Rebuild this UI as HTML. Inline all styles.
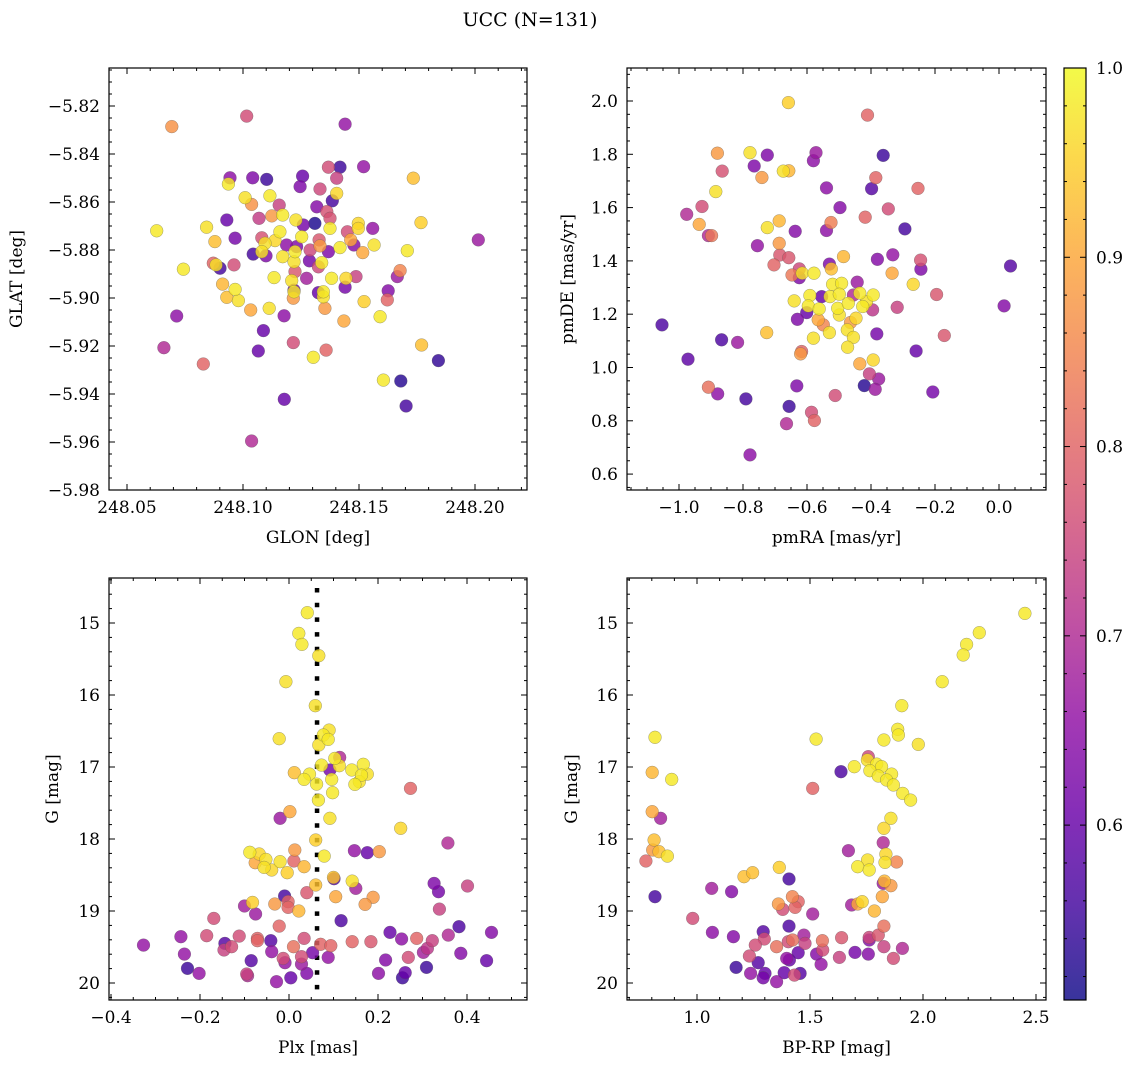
<!DOCTYPE html>
<html><head><meta charset="utf-8">
<style>
html,body{margin:0;padding:0;background:#fff;}
svg{display:block;font-family:"DejaVu Serif","Liberation Serif",serif;}
</style></head>
<body>
<svg id="fig" width="1136" height="1067" viewBox="0 0 1136 1067" xmlns="http://www.w3.org/2000/svg">
<rect width="1136" height="1067" fill="#fff"/>
<text x="530" y="26" font-size="19" text-anchor="middle">UCC (N=131)</text>
</svg>
<script>
// ---------- Panel 1 data: GLON / GLAT ----------
const p1Glon=[248.0693,248.1016,248.144,248.1418,248.1368,248.152,248.0944,248.1042,248.1102,248.1257,248.1404,248.1734,248.0937,248.1246,248.1332,248.1404,248.1385,248.1009,248.1037,248.1116,248.1156,248.1318,248.1361,248.093,248.1069,248.1124,248.1171,248.1228,248.126,248.131,248.1375,248.1375,248.1497,248.1497,248.145,248.1559,248.0628,248.0843,248.0879,248.0966,248.1081,248.1159,248.1138,248.1095,248.1044,248.1099,248.1081,248.1188,248.1253,248.1231,248.1328,248.1332,248.1289,248.1224,248.1171,248.1368,248.1418,248.1464,248.1478,248.1516,248.1565,248.1708,248.1767,248.2014,248.0743,248.0872,248.0901,248.0884,248.0961,248.122,248.1224,248.1286,248.1339,248.1325,248.1134,248.121,248.1274,248.1382,248.1444,248.1487,248.1677,248.1665,248.0912,248.0966,248.093,248.098,248.1033,248.1113,248.122,248.1217,248.122,248.1325,248.1346,248.1346,248.144,248.1353,248.1435,248.1522,248.1626,248.1622,248.1591,248.0714,248.1177,248.1088,248.0659,248.1066,248.1217,248.1303,248.1358,248.0829,248.177,248.1842,248.1605,248.168,248.1178,248.1703,248.1037];
const p1Glat=[-5.8286,-5.8242,-5.8276,-5.8455,-5.8455,-5.8453,-5.8499,-5.8499,-5.8506,-5.8492,-5.8501,-5.8501,-5.8525,-5.8536,-5.8546,-5.8564,-5.8595,-5.8582,-5.861,-5.8574,-5.8613,-5.862,-5.864,-5.8675,-5.8668,-5.8658,-5.8654,-5.8675,-5.8696,-5.8689,-5.8668,-5.871,-5.8689,-5.871,-5.8724,-5.871,-5.872,-5.8705,-5.8765,-5.8751,-5.8749,-5.8724,-5.8761,-5.8772,-5.8817,-5.8824,-5.8807,-5.8779,-5.8745,-5.8786,-5.8758,-5.8783,-5.88,-5.8807,-5.8828,-5.8807,-5.879,-5.8758,-5.8779,-5.8811,-5.8779,-5.8803,-5.8686,-5.8758,-5.888,-5.8855,-5.8876,-5.8862,-5.8862,-5.8849,-5.889,-5.8845,-5.8853,-5.887,-5.8915,-5.8928,-5.8918,-5.8918,-5.8918,-5.8911,-5.8886,-5.8911,-5.8942,-5.8964,-5.8997,-5.9011,-5.905,-5.9043,-5.8967,-5.9001,-5.8974,-5.8978,-5.8974,-5.8995,-5.8955,-5.9043,-5.9096,-5.9015,-5.897,-5.9008,-5.9078,-5.9075,-5.9074,-5.9136,-5.9207,-5.9221,-5.9186,-5.9247,-5.9217,-5.9275,-5.9196,-5.9261,-5.9342,-5.9346,-5.9422,-5.945,-5.9596];
const p1Prob=[.87,.76,.66,.55,.76,.66,.65,.63,.55,.6,.74,.93,.98,.63,.75,.96,.56,.97,.87,.98,.74,.64,.77,.6,.73,.88,.98,.97,.62,.52,.77,.98,.96,.96,.76,.66,.98,.97,.93,.62,.77,.98,.96,.97,.56,.63,.97,.65,.98,.63,.78,.88,.75,.98,.97,.63,.98,.9,.64,.9,.97,.98,.95,.67,.98,.8,.56,.97,.76,.97,.78,.62,.98,.75,.98,.97,.68,.98,.96,.74,.85,.67,.92,.98,.93,.97,.9,.97,.6,.88,.98,.6,.98,.97,.62,.88,.9,.95,.64,.8,.98,.65,.65,.6,.7,.6,.76,.98,.8,.8,.93,.54,.98,.53,.6,.56,.7];

// ---------- Panel 2 data: pmRA / pmDE ----------
const p2PmRA=[-0.658,-0.411,-0.88,-0.778,-0.724,-0.572,-0.58,-0.362,-0.765,-0.865,-0.674,-0.657,-0.741,-0.385,-0.539,-0.398,-0.253,-0.885,-0.928,-0.497,-0.346,-0.976,-0.418,-0.937,-0.687,-0.724,-0.525,-0.539,-0.637,-0.294,-0.908,-0.898,-0.755,-0.687,-0.685,-0.657,-0.703,-0.624,-0.647,-0.624,-0.615,-0.578,-0.53,-0.524,-0.486,-0.38,-0.332,-0.245,-0.244,-0.334,0.036,-0.268,-0.443,-0.52,-0.492,-0.195,0.016,-0.64,-0.591,-0.554,-0.528,-0.499,-0.455,-0.435,-0.393,-0.596,-0.562,-0.504,-0.471,-0.426,-0.414,-0.395,-0.318,-0.601,-0.63,-0.565,-0.549,-0.499,-0.447,-0.464,-0.53,-0.474,-0.726,-0.382,-0.171,-1.053,-0.455,-0.58,-0.867,-0.817,-0.473,-0.617,-0.62,-0.259,-0.972,-0.393,-0.435,-0.405,-0.376,-0.421,-0.387,-0.207,-0.632,-0.908,-0.879,-0.791,-0.512,-0.656,-0.586,-0.577,-0.664,-0.778];
const p2PmDE=[1.994,1.947,1.804,1.806,1.797,1.806,1.776,1.796,1.756,1.737,1.737,1.738,1.713,1.712,1.674,1.671,1.672,1.66,1.604,1.6,1.595,1.575,1.564,1.537,1.55,1.525,1.544,1.514,1.511,1.52,1.495,1.495,1.457,1.466,1.422,1.412,1.385,1.37,1.347,1.337,1.354,1.354,1.388,1.37,1.416,1.406,1.423,1.403,1.369,1.354,1.381,1.312,1.32,1.312,1.316,1.274,1.231,1.25,1.27,1.266,1.266,1.275,1.272,1.279,1.272,1.231,1.22,1.222,1.241,1.229,1.247,1.216,1.226,1.206,1.181,1.179,1.16,1.197,1.185,1.169,1.131,1.141,1.131,1.126,1.12,1.16,1.113,1.11,1.104,1.094,1.076,1.06,1.051,1.062,1.031,1.028,1.014,0.976,0.957,0.932,0.918,0.908,0.931,0.926,0.901,0.882,0.895,0.854,0.832,0.801,0.789,0.672];
const p2Prob=[.95,.8,.88,.97,.63,.67,.65,.55,.63,.77,.97,.92,.88,.8,.65,.58,.8,.97,.76,.64,.76,.7,.8,.9,.92,.97,.84,.65,.64,.56,.7,.83,.66,.88,.78,.78,.8,.75,.83,.63,.97,.98,.63,.93,.92,.64,.66,.77,.63,.9,.58,.96,.67,.98,.98,.78,.64,.97,.98,.6,.98,.98,.7,.98,.98,.98,.98,.98,.98,.98,.97,.72,.74,.6,.63,.9,.85,.97,.96,.88,.97,.97,.93,.62,.78,.57,.97,.97,.57,.67,.97,.8,.88,.6,.59,.96,.9,.74,.67,.53,.67,.62,.63,.82,.65,.56,.76,.55,.76,.8,.7,.65];

// ---------- Panel 3 data: Plx / G ----------
const p3Plx=[0.041,0.022,0.029,0.067,-0.007,0.059,-0.022,0.09,0.077,0.088,0.067,0.114,0.103,0.113,0.073,0.092,0.012,0.046,0.034,0.062,0.096,0.141,0.167,0.163,0.176,0.148,0.158,0.098,0.066,0.273,0.002,-0.02,0.092,0.251,0.06,0.357,0.013,0.147,0.176,0.203,-0.088,-0.067,-0.052,-0.076,-0.02,0.011,-0.056,-0.039,-0.004,0.034,0.079,0.101,0.1,0.142,0.15,0.06,0.04,0.326,0.336,0.401,-0.01,-0.002,-0.002,-0.032,-0.082,-0.1,0.022,0.105,0.189,0.171,-0.075,0.338,-0.169,-0.022,0.117,0.382,0.455,0.227,0.358,-0.327,-0.243,-0.185,-0.112,-0.071,-0.071,-0.144,-0.129,-0.146,-0.041,0.034,0.01,0.071,0.094,0.142,0.184,0.253,0.287,0.322,0.311,0.302,0.386,0.444,-0.235,-0.039,-0.013,-0.009,0.053,0.028,0.028,0.088,-0.085,0.217,0.268,0.309,-0.228,-0.202,-0.095,-0.093,-0.028,0.004,0.04,0.201,0.261,0.255];
const p3G=[14.857,15.144,15.297,15.454,15.815,16.149,16.607,16.487,16.556,16.616,16.695,16.866,16.88,16.982,16.973,17.042,17.079,17.098,17.172,17.237,17.172,17.042,16.963,17.112,17.098,17.241,17.204,17.357,17.459,17.297,17.621,17.713,17.713,17.852,18.014,18.056,18.153,18.162,18.19,18.176,18.185,18.208,18.283,18.329,18.315,18.306,18.394,18.431,18.468,18.385,18.237,18.551,18.533,18.584,18.686,18.639,18.746,18.616,18.732,18.653,18.792,18.871,18.95,18.903,18.88,18.931,19.0,18.801,18.81,18.908,19.042,18.973,19.102,19.209,19.135,19.218,19.297,19.297,19.334,19.473,19.357,19.343,19.348,19.38,19.413,19.45,19.496,19.542,19.413,19.38,19.496,19.463,19.482,19.426,19.426,19.389,19.38,19.413,19.519,19.575,19.588,19.69,19.598,19.565,19.658,19.718,19.579,19.635,19.737,19.644,19.69,19.681,19.644,19.783,19.797,19.866,19.875,19.899,19.982,19.927,19.866,19.866,19.857,19.927];
const p3Prob=[.98,.98,.98,.97,.97,.97,.97,.97,.98,.98,.97,.7,.98,.97,.98,.62,.93,.98,.98,.98,.98,.98,.98,.98,.97,.98,.97,.98,.98,.8,.9,.67,.97,.96,.95,.7,.88,.66,.6,.88,.98,.96,.97,.9,.97,.8,.97,.96,.95,.92,.98,.58,.94,.97,.68,.93,.78,.63,.62,.74,.56,.8,.8,.88,.95,.68,.92,.9,.88,.88,.67,.74,.76,.8,.57,.57,.64,.6,.7,.66,.66,.76,.76,.8,.8,.58,.76,.74,.58,.76,.82,.8,.8,.8,.78,.65,.8,.74,.72,.68,.64,.6,.66,.66,.76,.66,.62,.76,.67,.66,.58,.64,.76,.55,.55,.66,.74,.7,.66,.6,.63,.65,.6,.55];
const plxRef=0.063;

// ---------- Panel 4 data: BP-RP / G ----------
const p4BpRp=[2.451,2.249,2.193,2.178,2.085,1.906,1.888,1.891,1.979,1.827,1.527,0.814,0.802,0.888,1.758,1.754,1.795,1.817,1.696,1.765,1.802,1.861,1.839,1.869,1.91,1.945,1.637,1.512,0.802,0.839,1.858,1.827,0.81,1.824,1.67,0.804,0.832,0.869,0.774,1.755,1.711,1.762,1.836,1.832,1.883,1.364,1.208,1.246,1.407,1.829,1.824,1.858,1.065,1.153,0.814,1.82,1.422,1.448,1.36,1.434,1.379,1.684,1.711,1.731,1.785,1.512,0.981,1.407,1.827,1.068,1.161,1.293,1.298,1.258,1.352,1.404,1.423,1.473,1.478,1.555,1.556,1.64,1.762,1.802,1.762,1.827,1.909,1.869,1.758,1.699,1.63,1.529,1.549,1.448,1.397,1.409,1.232,1.271,1.173,1.237,1.293,1.301,1.352,1.386,1.431,1.456];
const p4G=[14.866,15.135,15.297,15.445,15.815,16.149,16.477,16.556,16.686,16.625,16.612,16.588,17.075,17.172,16.857,16.903,16.959,16.996,16.996,17.051,17.125,17.098,17.181,17.25,17.366,17.459,17.065,17.297,17.621,17.713,17.713,17.852,18.014,18.051,18.162,18.153,18.176,18.237,18.306,18.292,18.385,18.431,18.209,18.325,18.32,18.394,18.524,18.468,18.556,18.584,18.616,18.649,18.686,18.732,18.801,18.801,18.801,18.871,18.903,18.95,18.977,18.917,18.903,18.871,19.0,19.042,19.102,19.209,19.209,19.297,19.357,19.288,19.389,19.473,19.496,19.426,19.403,19.334,19.45,19.413,19.542,19.371,19.366,19.334,19.403,19.496,19.519,19.658,19.598,19.575,19.644,19.598,19.741,19.579,19.658,19.681,19.625,19.718,19.783,19.866,19.927,19.866,19.982,19.857,19.89,19.866];
const p4Prob=[.98,.98,.98,.98,.98,.98,.98,.98,.97,.98,.98,.98,.92,.98,.75,.97,.98,.98,.98,.98,.98,.98,.98,.98,.98,.98,.57,.8,.9,.68,.97,.96,.93,.7,.68,.88,.93,.97,.8,.97,.98,.98,.96,.97,.85,.95,.93,.93,.56,.92,.67,.88,.68,.64,.56,.9,.85,.8,.88,.8,.76,.68,.9,.96,.92,.68,.76,.57,.82,.65,.64,.58,.76,.76,.82,.76,.82,.68,.74,.82,.76,.78,.75,.78,.64,.74,.7,.76,.64,.62,.74,.64,.66,.6,.66,.6,.76,.58,.55,.66,.62,.6,.66,.6,.76,.58];

// ---------- colorbar ----------
const cbTicks=[0.6,0.7,0.8,0.9,1.0];
const cMin=0.5076, cMax=1.0;

const NS="http://www.w3.org/2000/svg";
const svg=document.getElementById('fig');
const FS=17;
function el(tag,attrs,parent){const e=document.createElementNS(NS,tag);for(const k in attrs)e.setAttribute(k,attrs[k]);(parent||svg).appendChild(e);return e;}
const plasma=[[13,8,135],[65,4,157],[106,0,168],[143,13,164],[177,42,144],[204,71,120],[225,100,98],[242,132,75],[252,166,54],[252,206,37],[240,249,33]];
function cmap(t){t=Math.max(0,Math.min(1,t));const f=t*10,i=Math.min(9,Math.floor(f)),r=f-i;const a=plasma[i],b=plasma[i+1];return `rgb(${Math.round(a[0]+(b[0]-a[0])*r)},${Math.round(a[1]+(b[1]-a[1])*r)},${Math.round(a[2]+(b[2]-a[2])*r)})`;}
function fmt(v,d){return (v<0?'\u2212':'')+Math.abs(v).toFixed(d);}

function panel(cfg){
  const {x0,x1,y0,y1,xd,yd,invertY}=cfg;
  const sx=v=>x0+(v-xd[0])/(xd[1]-xd[0])*(x1-x0);
  const sy=invertY? v=>y0+(v-yd[0])/(yd[1]-yd[0])*(y1-y0) : v=>y1-(v-yd[0])/(yd[1]-yd[0])*(y1-y0);
  const g=el('g',{});
  
  
  const clipId=cfg.name+'-clip';
  const cp=el('clipPath',{id:clipId},g);el('rect',{x:x0,y:y0,width:x1-x0,height:y1-y0},cp);
  const pts=el('g',{'clip-path':`url(#${clipId})`},g);
  
  
  if(cfg.vline!==undefined){
    const l=el('line',{x1:sx(cfg.vline),x2:sx(cfg.vline),y1:y0+10,y2:y1,stroke:'#000','stroke-width':4.5,'stroke-dasharray':'4.5 10.2'},pts);
    
    
  }
  const idx=cfg.xs.map((_,i)=>i).sort((a,b)=>cfg.cs[a]-cfg.cs[b]);
  for(const i of idx){
    const c=el('circle',{cx:sx(cfg.xs[i]).toFixed(1),cy:sy(cfg.ys[i]).toFixed(1),r:6.4,fill:cmap((cfg.cs[i]-cMin)/(cMax-cMin)),'fill-opacity':0.82,stroke:'#555','stroke-opacity':0.55,'stroke-width':0.5},pts);
    
    
  }
  el('rect',{x:x0,y:y0,width:x1-x0,height:y1-y0,fill:'none',stroke:'#000','stroke-width':1.2},g);
  const eps=1e-9;
  for(let v=Math.ceil((xd[0]-eps)/cfg.xmin)*cfg.xmin; v<=xd[1]+eps; v+=cfg.xmin){
    const isMaj=Math.abs(v/cfg.xmaj-Math.round(v/cfg.xmaj))<1e-4;const L=isMaj?6:3;const X=sx(v);
    el('line',{x1:X,x2:X,y1:y1,y2:y1-L,stroke:'#000','stroke-width':1},g);
    el('line',{x1:X,x2:X,y1:y0,y2:y0+L,stroke:'#000','stroke-width':1},g);
    if(isMaj){const t=el('text',{x:X,y:y1+23,'font-size':FS,'text-anchor':'middle'},g);t.textContent=fmt(Math.round(v/cfg.xmaj)*cfg.xmaj,cfg.xdec);
      }
  }
  for(let v=Math.ceil((yd[0]-eps)/cfg.ymin)*cfg.ymin; v<=yd[1]+eps; v+=cfg.ymin){
    const isMaj=Math.abs(v/cfg.ymaj-Math.round(v/cfg.ymaj))<1e-4;const L=isMaj?6:3;const Y=sy(v);
    el('line',{x1:x0,x2:x0+L,y1:Y,y2:Y,stroke:'#000','stroke-width':1},g);
    el('line',{x1:x1,x2:x1-L,y1:Y,y2:Y,stroke:'#000','stroke-width':1},g);
    if(isMaj){const t=el('text',{x:x0-9,y:Y+6,'font-size':FS,'text-anchor':'end'},g);t.textContent=fmt(Math.round(v/cfg.ymaj)*cfg.ymaj,cfg.ydec);
      }
  }
  const xl=el('text',{x:(x0+x1)/2,y:y1+53,'font-size':FS,'text-anchor':'middle'},g);xl.textContent=cfg.xlabel;
  
  const yl=el('text',{x:0,y:0,'font-size':FS,'text-anchor':'middle',transform:`translate(${cfg.ylx},${(y0+y1)/2}) rotate(-90)`},g);yl.textContent=cfg.ylabel;
  
}

panel({name:'glon-glat-panel',x0:109,x1:527,y0:68,y1:490,xd:[248.04224,248.22241],yd:[-5.98,-5.80417],xs:p1Glon,ys:p1Glat,cs:p1Prob,xmaj:0.05,xmin:0.01,xdec:2,ymaj:0.02,ymin:0.005,ydec:2,xlabel:'GLON [deg]',ylabel:'GLAT [deg]',ylx:22});
panel({name:'proper-motion-panel',x0:627,x1:1046,y0:68,y1:490,xd:[-1.1625,0.1469],yd:[0.5403,2.1238],xs:p2PmRA,ys:p2PmDE,cs:p2Prob,xmaj:0.2,xmin:0.05,xdec:1,ymaj:0.2,ymin:0.05,ydec:1,xlabel:'pmRA [mas/yr]',ylabel:'pmDE [mas/yr]',ylx:573});
panel({name:'parallax-magnitude-panel',x0:109,x1:527,y0:578,y1:1000,xd:[-0.4045,0.5348],yd:[14.375,20.236],invertY:true,xs:p3Plx,ys:p3G,cs:p3Prob,xmaj:0.2,xmin:0.05,xdec:1,ymaj:1,ymin:0.2,ydec:0,xlabel:'Plx [mas]',ylabel:'G [mag]',ylx:58,vline:plxRef});
panel({name:'color-magnitude-panel',x0:627,x1:1046,y0:578,y1:1000,xd:[0.6903,2.5442],yd:[14.375,20.236],invertY:true,xs:p4BpRp,ys:p4G,cs:p4Prob,xmaj:0.5,xmin:0.1,xdec:1,ymaj:1,ymin:0.2,ydec:0,xlabel:'BP-RP [mag]',ylabel:'G [mag]',ylx:577});

(function(){
  const cx0=1064,cx1=1086,cy0=68,cy1=1000;
  const g=el('g',{});
  
  
  const defs=el('defs',{},g);
  const lg=el('linearGradient',{id:'cbgrad',x1:0,y1:1,x2:0,y2:0},defs);
  for(let i=0;i<=20;i++){el('stop',{offset:(i/20),'stop-color':cmap(i/20),'stop-opacity':0.82},lg);}
  el('rect',{x:cx0,y:cy0,width:cx1-cx0,height:cy1-cy0,fill:'url(#cbgrad)',stroke:'#000','stroke-width':1.2},g);
  const sy=v=>cy1-(v-cMin)/(cMax-cMin)*(cy1-cy0);
  for(let v=0.52;v<=1.0001;v+=0.02){
    const maj=Math.abs(v*10-Math.round(v*10))<1e-4;const Y=sy(v);
    el('line',{x1:cx1,x2:cx1-(maj?6:3),y1:Y,y2:Y,stroke:'#000','stroke-width':1},g);
    el('line',{x1:cx0,x2:cx0+(maj?6:3),y1:Y,y2:Y,stroke:'#000','stroke-width':1},g);
  }
  for(const v of cbTicks){
    const t=el('text',{x:cx1+10,y:sy(v)+6,'font-size':FS},g);t.textContent=v.toFixed(1);
    
  }
})();
</script>
</body></html>
